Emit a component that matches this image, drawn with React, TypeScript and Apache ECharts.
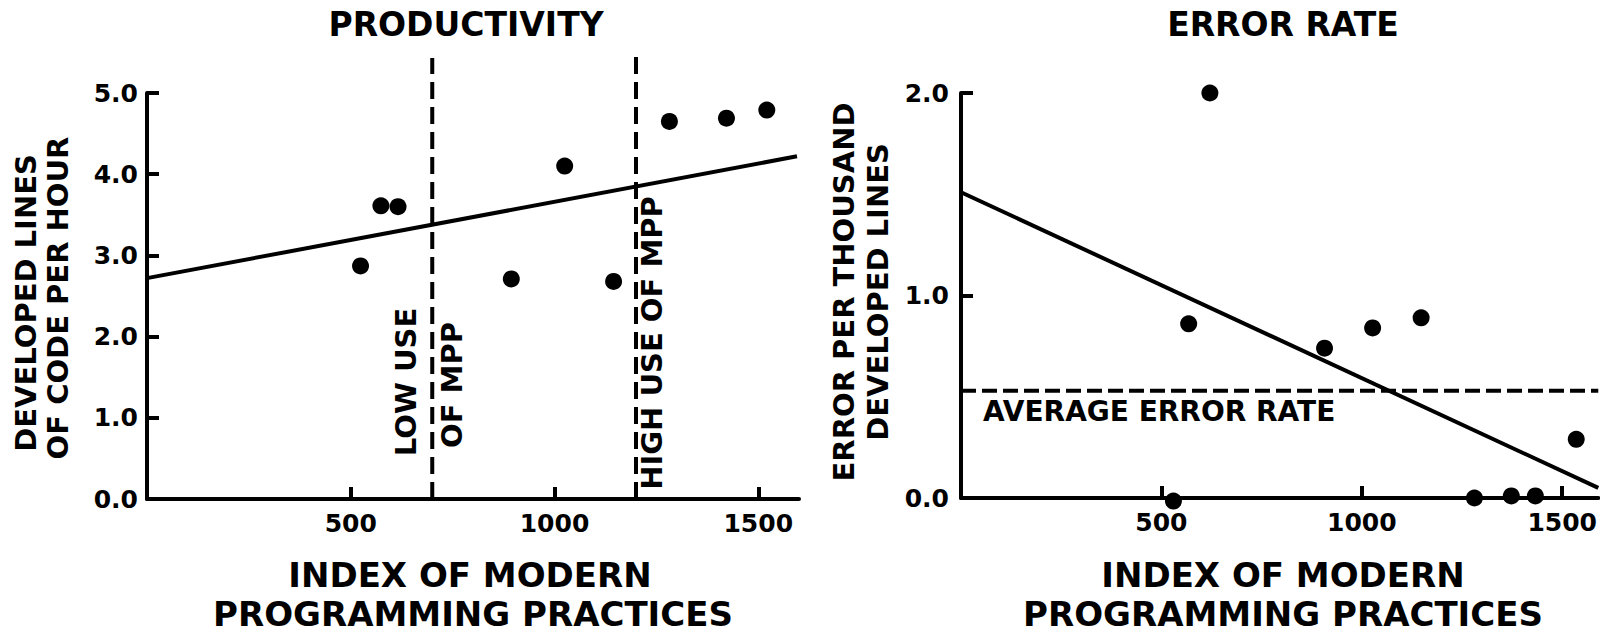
import React, { useEffect, useRef } from "react";
import * as echarts from "echarts";

// ---- data ----
const PROD_X = [524, 574, 616, 894, 1025, 1145, 1282, 1422, 1521];
const PROD_Y = [2.87, 3.61, 3.6, 2.71, 4.1, 2.68, 4.65, 4.69, 4.79];
const PROD_FIT = [
  [0, 2.72],
  [1595, 4.22],
];
const LOW_MPP = 700;
const HIGH_MPP = 1200;
const LOW_TOP = 5.43;
const HIGH_TOP = 5.49;

const ERR_X = [530, 568, 621, 907, 1027, 1148, 1281, 1373, 1433, 1535];
const ERR_Y = [-0.015, 0.86, 2.0, 0.74, 0.84, 0.89, 0.0, 0.01, 0.01, 0.29];
const ERR_FIT = [
  [0, 1.51],
  [1590, 0.05],
];
const AVG_ERR = 0.53;

const X_TICKS = [500, 1000, 1500];
const PROD_Y_TICKS = [0, 1, 2, 3, 4, 5];
const ERR_Y_TICKS = [0, 1, 2];

const FONT = "DejaVu Sans";
const BLACK = "#000";

function xAxisCfg(gridIndex: number, max: number) {
  return {
    type: "value",
    gridIndex,
    min: 0,
    max,
    interval: 500,
    axisLine: { show: true, onZero: false, lineStyle: { color: BLACK, width: 4 } },
    axisTick: {
      show: true,
      inside: true,
      length: 12,
      customValues: X_TICKS,
      lineStyle: { color: BLACK, width: 4 },
    },
    axisLabel: {
      customValues: X_TICKS,
      margin: 12,
      color: BLACK,
      fontFamily: FONT,
      fontWeight: "bold",
      fontSize: 25,
      formatter: (v: number) => String(v),
    },
    splitLine: { show: false },
  };
}

function yAxisCfg(gridIndex: number, max: number, ticks: number[], margin: number) {
  return {
    type: "value",
    gridIndex,
    min: 0,
    max,
    interval: 1,
    axisLine: { show: true, onZero: false, lineStyle: { color: BLACK, width: 4 } },
    axisTick: {
      show: true,
      inside: true,
      length: 12,
      customValues: ticks,
      lineStyle: { color: BLACK, width: 4 },
    },
    axisLabel: {
      customValues: ticks,
      margin,
      color: BLACK,
      fontFamily: FONT,
      fontWeight: "bold",
      fontSize: 25,
      formatter: (v: number) => v.toFixed(1),
    },
    splitLine: { show: false },
  };
}

function txt(
  text: string,
  x: number,
  y: number,
  fontSize: number,
  rotate = false,
  align: string = "center"
) {
  return {
    type: "text",
    x,
    y,
    rotation: rotate ? Math.PI / 2 : 0,
    style: {
      text,
      fill: BLACK,
      font: `bold ${fontSize}px "${FONT}"`,
      textAlign: align,
      textVerticalAlign: "middle",
    },
    z: 10,
  };
}

const dotStyle = { color: BLACK, opacity: 1 };

const option = {
  animation: false,
  backgroundColor: "#fff",
  grid: [
    { left: 147, right: 801, top: 93, bottom: 136 },
    { left: 961, right: 0, top: 93, bottom: 137 },
  ],
  xAxis: [xAxisCfg(0, 1600), xAxisCfg(1, 1590)],
  yAxis: [yAxisCfg(0, 5, PROD_Y_TICKS, 9), yAxisCfg(1, 2, ERR_Y_TICKS, 12)],
  series: [
    {
      type: "line",
      xAxisIndex: 0,
      yAxisIndex: 0,
      data: [
        [LOW_MPP, 0],
        [LOW_MPP, LOW_TOP],
      ],
      clip: false,
      symbol: "none",
      lineStyle: { color: BLACK, width: 4, type: [17, 8] },
      z: 1,
    },
    {
      type: "line",
      xAxisIndex: 0,
      yAxisIndex: 0,
      data: [
        [HIGH_MPP, 0],
        [HIGH_MPP, HIGH_TOP],
      ],
      clip: false,
      symbol: "none",
      lineStyle: { color: BLACK, width: 4, type: [17, 8] },
      z: 1,
    },
    {
      type: "line",
      xAxisIndex: 0,
      yAxisIndex: 0,
      data: PROD_FIT,
      symbol: "none",
      clip: false,
      lineStyle: { color: BLACK, width: 4 },
      z: 2,
    },
    {
      type: "scatter",
      xAxisIndex: 0,
      yAxisIndex: 0,
      data: PROD_X.map((x, i) => [x, PROD_Y[i]]),
      symbolSize: 17,
      clip: false,
      itemStyle: dotStyle,
      z: 3,
    },
    {
      type: "line",
      xAxisIndex: 1,
      yAxisIndex: 1,
      data: [
        [0, AVG_ERR],
        [1590, AVG_ERR],
      ],
      symbol: "none",
      lineStyle: { color: BLACK, width: 4, type: [15, 6] },
      z: 1,
    },
    {
      type: "line",
      xAxisIndex: 1,
      yAxisIndex: 1,
      data: ERR_FIT,
      symbol: "none",
      clip: false,
      lineStyle: { color: BLACK, width: 4 },
      z: 2,
    },
    {
      type: "scatter",
      xAxisIndex: 1,
      yAxisIndex: 1,
      data: ERR_X.map((x, i) => [x, ERR_Y[i]]),
      symbolSize: 17,
      clip: false,
      itemStyle: dotStyle,
      z: 3,
    },
  ],
  graphic: [
    txt("PRODUCTIVITY", 466, 24, 33),
    txt("ERROR RATE", 1283, 24, 33),
    txt("DEVELOPED LINES", 26, 303, 29, true),
    txt("OF CODE PER HOUR", 58, 298, 29, true),
    txt("ERROR PER THOUSAND", 844, 292, 29, true),
    txt("DEVELOPED LINES", 878, 292, 29, true),
    txt("INDEX OF MODERN", 470, 575, 34),
    txt("PROGRAMMING PRACTICES", 473, 614, 34),
    txt("INDEX OF MODERN", 1283, 575, 34),
    txt("PROGRAMMING PRACTICES", 1283, 614, 34),
    txt("LOW USE", 406, 382, 29, true),
    txt("OF MPP", 452, 385, 29, true),
    txt("HIGH USE OF MPP", 652, 343, 29, true),
    txt("AVERAGE ERROR RATE", 983, 411, 28, false, "left"),
  ],
};

export default function App() {
  const ref = useRef<HTMLDivElement>(null);
  useEffect(() => {
    document.body.style.margin = "0";
    const chart = echarts.init(ref.current!, null, { renderer: "svg" });
    chart.setOption(option as any);
    return () => chart.dispose();
  }, []);
  return (
    <div
      ref={ref}
      style={{ width: 1600, height: 635, background: "#fff", position: "absolute", left: 0, top: 0 }}
    />
  );
}
